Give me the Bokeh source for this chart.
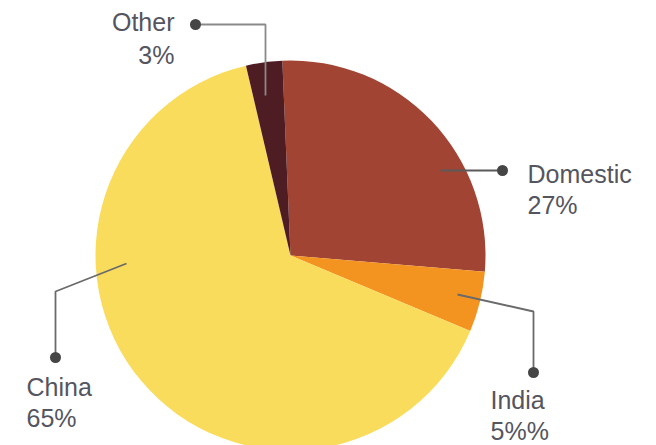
from bokeh.plotting import figure
from bokeh.models import Range1d, ColumnDataSource
from bokeh.core.properties import value
from bokeh.embed import file_html
from bokeh.resources import INLINE
import math

# ---- data ----
labels = ["Domestic", "India", "China", "Other"]
shares = [27, 5, 65, 3]
pct_labels = ["27%", "5%%", "65%", "3%"]
colors = ["#A24433", "#F39421", "#FADC5C", "#4E1C23"]

# ---- layout ----
W, H = 656, 445
def X(px): return px
def Y(py): return H - py

cx, cy, R = X(290), Y(255), 195
start_deg = 92.4  # leading edge of first slice (math angle), going clockwise

starts, ends = [], []
cum = 0.0
total = float(sum(shares))
for s in shares:
    before = start_deg - cum / total * 360.0
    cum += s
    after = start_deg - cum / total * 360.0
    starts.append(math.radians(after))
    ends.append(math.radians(before))

src = ColumnDataSource(dict(start=starts, end=ends, color=colors, label=labels))

p = figure(width=W, height=H, x_range=Range1d(0, W), y_range=Range1d(0, H),
           output_backend="svg", toolbar_location=None, min_border=0)
p.axis.visible = False
p.grid.visible = False
p.outline_line_color = None
p.background_fill_color = "white"
p.border_fill_color = "white"

p.wedge(x=cx, y=cy, radius=R, start_angle="start", end_angle="end",
        fill_color="color", line_color=None, source=src)

# leader lines (screen px), dot at first point
leaders = {
    "Other": ([(195, 24), (265, 24), (265, 95)], "#8a8a8a"),
    "Domestic": ([(502, 170), (440, 170)], "#5a5a5a"),
    "India": ([(533, 372), (533, 311), (457, 294)], "#6a6a6a"),
    "China": ([(55, 357), (55, 291), (126, 263)], "#6a6a6a"),
}
for name, (pts, lc) in leaders.items():
    xs = [X(a) for a, b in pts]
    ys = [Y(b) for a, b in pts]
    p.line(xs, ys, line_color=lc, line_width=1.8)
    p.scatter([xs[0]], [ys[0]], size=11, fill_color="#454545", line_color=None)

# label placement (screen px): x, vertical centre of first line, second line, align
label_pos = {
    "Other": (174, 21, 54, "right"),
    "Domestic": (527, 173, 204, "left"),
    "India": (490, 399, 430, "left"),
    "China": (26, 386, 417, "left"),
}
txt_col = "#555560"
for name, pct in zip(labels, pct_labels):
    x, y1, y2, al = label_pos[name]
    p.text(x=[X(x), X(x)], y=[Y(y1), Y(y2)], text=[name, pct],
           text_font=value("Liberation Sans"), text_font_size="25px",
           text_color=txt_col, text_align=al, text_baseline="middle")

open("out.html", "w").write(file_html(p, INLINE))
